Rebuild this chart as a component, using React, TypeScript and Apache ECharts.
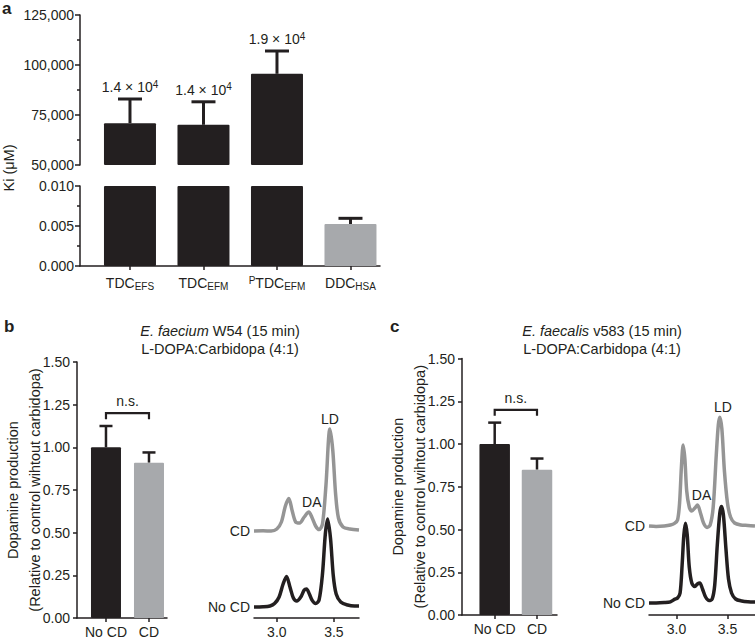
import React, { useEffect, useRef } from 'react';
import * as echarts from 'echarts';

// ---------------- Panel a data ----------------
const kiPrefix = ['', '', 'P', ''];
const kiMain = ['TDC', 'TDC', 'TDC', 'DDC'];
const kiSub = ['EFS', 'EFM', 'EFM', 'HSA'];
const kiMean = [70900, 70100, 95600, 0.00525];
const kiUpper = [83000, 81600, 107000, 0.00596];
const kiNote = ['1.4 × 10', '1.4 × 10', '1.9 × 10', ''];
const kiNoteExp = '4';
const kiUpperRange = [50000, 125000];
const kiUpperStep = 25000;
const kiLowerRange = [0, 0.01];
const kiLowerStep = 0.005;

// ---------------- Panels b, c data ----------------
const prodCategories = ['No CD', 'CD'];
const bMean = [1.0, 0.91];
const bUpper = [1.125, 0.97];
const cMean = [1.0, 0.85];
const cUpper = [1.125, 0.915];
const bracketTopLeg = [1.2, 1.165];
const prodRange = [0, 1.5];
const prodStep = 0.25;

const chromTicks = [3.0, 3.5];
const bChromRange = [2.8, 3.72];
const cChromRange = [2.73, 3.77];
const signalRange = [0, 105];

const bNoCD: number[][] = [
  [2.80, 5.5], [2.88, 5.6], [2.94, 6], [2.98, 7.2], [3.02, 10.5], [3.055, 17], [3.085, 20.8],
  [3.115, 15.5], [3.145, 10], [3.175, 8.5], [3.21, 10.5], [3.24, 14], [3.26, 14.5], [3.285, 12],
  [3.31, 8.8], [3.34, 7.2], [3.37, 9], [3.40, 22], [3.425, 42], [3.445, 49.5], [3.47, 40],
  [3.495, 21], [3.52, 12], [3.56, 8], [3.62, 6.5], [3.68, 6], [3.72, 6],
];
const bCD: number[][] = [
  [2.80, 43.5], [2.88, 43.6], [2.95, 43.5], [3.00, 44.5], [3.04, 48], [3.075, 56], [3.105, 59.8],
  [3.135, 53.5], [3.165, 48], [3.20, 47.5], [3.24, 50.5], [3.28, 53], [3.31, 50], [3.34, 46],
  [3.37, 44.2], [3.40, 47], [3.43, 66], [3.465, 94.5], [3.49, 84], [3.515, 62], [3.54, 50],
  [3.58, 45.5], [3.64, 44.5], [3.72, 44],
];
const cNoCD: number[][] = [
  [2.73, 6], [2.80, 6], [2.88, 6.2], [2.94, 6.6], [2.98, 7.8], [3.01, 8.5], [3.035, 11],
  [3.055, 25], [3.072, 40], [3.088, 45.9], [3.105, 40], [3.125, 24], [3.15, 16], [3.18, 14.2],
  [3.205, 15.5], [3.228, 16], [3.255, 13], [3.285, 9], [3.32, 7.2], [3.35, 8], [3.375, 15],
  [3.40, 35], [3.425, 51], [3.441, 54.2], [3.46, 50], [3.485, 33], [3.51, 18], [3.54, 11],
  [3.58, 8], [3.64, 7], [3.70, 6.6], [3.77, 6.5],
];
const cCD: number[][] = [
  [2.73, 44.5], [2.80, 44.3], [2.88, 44.5], [2.94, 45], [2.98, 45.8], [3.01, 47.5], [3.03, 56],
  [3.048, 74], [3.065, 85], [3.082, 78], [3.10, 62], [3.125, 54], [3.15, 52], [3.18, 53.5],
  [3.206, 55], [3.235, 51], [3.265, 46], [3.30, 43.8], [3.33, 45], [3.36, 54], [3.39, 80],
  [3.41, 95], [3.425, 98.9], [3.445, 93], [3.47, 72], [3.50, 56], [3.53, 49], [3.57, 46],
  [3.63, 45], [3.70, 44.8], [3.77, 44.5],
];
const bPeakNames = [['DA', 3.28], ['LD', 3.465]] as [string, number][];
const cPeakNames = [['DA', 3.206], ['LD', 3.425]] as [string, number][];

// ---------------- styles / layout ----------------
const FONT = "'Liberation Sans', Arial, Helvetica, sans-serif";
const INK = '#231f20';
const GRAY_BAR = '#a7a9ac';
const GRAY_LINE = '#959595';
const KI_COLORS = [INK, INK, INK, GRAY_BAR];
const PROD_COLORS = [INK, GRAY_BAR];

const A = { left: 80, width: 300, upTop: 15, upH: 150, lowTop: 186, lowH: 80, band: 73.5, first: 0.68, barW: 52 };
const B = { left: 77, top: 362, width: 90, height: 256, band: 43, first: 0.674, barW: 30, cLeft: 254, cW: 105, cBottom: 618, daDx: 3, ldDx: 0 };
const C = { left: 462, top: 358.5, width: 95, height: 256.5, band: 42.3, first: 0.773, barW: 30.5, cLeft: 649, cW: 106, cBottom: 615, daDx: 4, ldDx: 3 };

const lineStyle = { color: INK, width: 1.5 };
const fmtThousands = (v: number) => String(Math.round(v)).replace(/\B(?=(\d{3})+(?!\d))/g, ',');

function errorRender(capW: number, lw: number, withNote: boolean) {
  return (_params: any, api: any) => {
    const x = api.value(0);
    const p0 = api.coord([x, api.value(1)]);
    const p1 = api.coord([x, api.value(2)]);
    const idx = api.value(3);
    const st = { stroke: INK, lineWidth: lw };
    const children: any[] = [
      { type: 'line', shape: { x1: p0[0], y1: p0[1], x2: p1[0], y2: p1[1] }, style: st },
      { type: 'line', shape: { x1: p1[0] - capW / 2, y1: p1[1], x2: p1[0] + capW / 2, y2: p1[1] }, style: st },
    ];
    if (withNote && kiNote[idx]) {
      children.push({
        type: 'text',
        x: p1[0],
        y: p1[1] - 4,
        style: {
          text: `{n|${kiNote[idx]}}{e|${kiNoteExp}}`,
          align: 'center',
          verticalAlign: 'bottom',
          rich: {
            n: { fontSize: 14, lineHeight: 16, fontFamily: FONT, fill: INK },
            e: { fontSize: 10, lineHeight: 10, verticalAlign: 'top', fontFamily: FONT, fill: INK },
          },
        },
      });
    }
    return { type: 'group', children };
  };
}

function bracketRender(_params: any, api: any) {
  const x0 = api.value(0), x1 = api.value(1), top = api.value(2), leg = api.value(3);
  const a = api.coord([x0, leg]);
  const b = api.coord([x0, top]);
  const c = api.coord([x1, top]);
  const d = api.coord([x1, leg]);
  return {
    type: 'group',
    children: [
      { type: 'polyline', shape: { points: [a, b, c, d] }, style: { stroke: INK, lineWidth: 2.2, fill: null } },
      {
        type: 'text', x: (b[0] + c[0]) / 2, y: b[1] - 5,
        style: { text: 'n.s.', align: 'center', verticalAlign: 'bottom', fontSize: 14, fontFamily: FONT, fill: INK },
      },
    ],
  };
}

function prodPanel(L: any, gi: number, mean: number[], upper: number[]) {
  const xs = mean.map((_, i) => i + L.first);
  const xAxis = {
    gridIndex: gi, type: 'value', min: 0, max: L.width / L.band,
    axisLine: { show: true, onZero: false, lineStyle },
    axisTick: { show: true, customValues: xs, length: 4, lineStyle },
    axisLabel: {
      customValues: xs, margin: 7, color: INK, fontSize: 14, fontFamily: FONT,
      formatter: (v: number) => prodCategories[Math.round(v - L.first)],
    },
    splitLine: { show: false },
  };
  const yAxis = {
    gridIndex: gi, type: 'value', min: prodRange[0], max: prodRange[1], interval: prodStep,
    axisLine: { show: true, lineStyle },
    axisTick: { show: true, length: 4, lineStyle },
    axisLabel: { margin: 7, color: INK, fontSize: 14, fontFamily: FONT, formatter: (v: number) => v.toFixed(2) },
    splitLine: { show: false },
  };
  const series = [
    {
      type: 'bar', xAxisIndex: gi, yAxisIndex: gi, barWidth: L.barW,
      data: mean.map((v, i) => ({ value: [xs[i], v], itemStyle: { color: PROD_COLORS[i], borderRadius: 1 } })),
    },
    {
      type: 'custom', xAxisIndex: gi, yAxisIndex: gi, renderItem: errorRender(13, 2.5, false),
      data: mean.map((v, i) => [xs[i], v, upper[i], i]),
    },
    {
      type: 'custom', xAxisIndex: gi, yAxisIndex: gi, renderItem: bracketRender,
      data: [[xs[0], xs[1], bracketTopLeg[0], bracketTopLeg[1]]],
    },
  ];
  return { xAxis, yAxis, series };
}

function chromPanel(L: any, gi: number, range: number[], noCD: number[][], cd: number[][], peaks: [string, number][]) {
  const xAxis = {
    gridIndex: gi, type: 'value', min: range[0], max: range[1],
    axisLine: { show: true, onZero: false, lineStyle },
    axisTick: { show: true, customValues: chromTicks, length: 4, lineStyle },
    axisLabel: { customValues: chromTicks, margin: 7, color: INK, fontSize: 14, fontFamily: FONT, formatter: (v: number) => v.toFixed(1) },
    splitLine: { show: false },
  };
  const yAxis = { gridIndex: gi, type: 'value', min: signalRange[0], max: signalRange[1], show: false, splitLine: { show: false } };
  const lab = { color: INK, fontSize: 14, fontFamily: FONT, opacity: 1 };
  const peakPts = peaks.map(([name, t]) => {
    const p = cd.find((q) => Math.abs(q[0] - t) < 1e-9) as number[];
    return {
      name, value: p,
      label: { ...lab, position: 'top', distance: 3, offset: [name === 'DA' ? L.daDx : L.ldDx, 0] },
    };
  });
  const series = [
    {
      type: 'line', xAxisIndex: gi, yAxisIndex: gi, data: cd, showSymbol: false, smooth: 0.3,
      lineStyle: { color: GRAY_LINE, width: 3.5 }, z: 2,
    },
    {
      type: 'line', xAxisIndex: gi, yAxisIndex: gi, data: noCD, showSymbol: false, smooth: 0.3,
      lineStyle: { color: INK, width: 3.5 }, z: 3,
    },
    {
      type: 'scatter', xAxisIndex: gi, yAxisIndex: gi, symbolSize: 0, itemStyle: { color: INK }, z: 4,
      label: { show: true, formatter: '{b}', ...lab },
      data: [
        { name: 'CD', value: cd[0], label: { ...lab, position: 'left', distance: 4 } },
        { name: 'No CD', value: noCD[0], label: { ...lab, position: 'left', distance: 4 } },
        ...peakPts,
      ],
    },
  ];
  return { xAxis, yAxis, series };
}

function buildOption() {
  const kiX = kiMean.map((_, i) => i + A.first);
  const kiRich = {
    m: { fontSize: 14, lineHeight: 16, fontFamily: FONT, color: INK },
    s: { fontSize: 10, lineHeight: 10, verticalAlign: 'bottom', fontFamily: FONT, color: INK },
    p: { fontSize: 10, lineHeight: 10, verticalAlign: 'top', fontFamily: FONT, color: INK },
  };
  const kiLabel = (i: number) => `${kiPrefix[i] ? `{p|${kiPrefix[i]}}` : ''}{m|${kiMain[i]}}{s|${kiSub[i]}}`;

  const grids = [
    { left: A.left, top: A.upTop, width: A.width, height: A.upH },
    { left: A.left, top: A.lowTop, width: A.width, height: A.lowH },
    { left: B.left, top: B.top, width: B.width, height: B.height },
    { left: B.cLeft, top: B.cBottom - 210, width: B.cW, height: 210 },
    { left: C.left, top: C.top, width: C.width, height: C.height },
    { left: C.cLeft, top: C.cBottom - 210, width: C.cW, height: 210 },
  ];

  const xAxes: any[] = [
    { gridIndex: 0, type: 'value', min: 0, max: A.width / A.band, show: false, splitLine: { show: false } },
    {
      gridIndex: 1, type: 'value', min: 0, max: A.width / A.band,
      axisLine: { show: true, onZero: false, lineStyle },
      axisTick: { show: true, customValues: kiX, length: 4, lineStyle },
      axisLabel: { customValues: kiX, margin: 9, formatter: (v: number) => kiLabel(Math.round(v - A.first)), rich: kiRich },
      splitLine: { show: false },
    },
  ];
  const yAxes: any[] = [
    {
      gridIndex: 0, type: 'value', min: kiUpperRange[0], max: kiUpperRange[1], interval: kiUpperStep,
      axisLine: { show: true, lineStyle }, axisTick: { show: true, length: 5, lineStyle },
      minorTick: { show: true, splitNumber: 2, length: 3, lineStyle },
      axisLabel: { margin: 6, color: INK, fontSize: 14, fontFamily: FONT, formatter: fmtThousands },
      splitLine: { show: false }, minorSplitLine: { show: false },
    },
    {
      gridIndex: 1, type: 'value', min: kiLowerRange[0], max: kiLowerRange[1], interval: kiLowerStep,
      axisLine: { show: true, lineStyle }, axisTick: { show: true, length: 5, lineStyle },
      minorTick: { show: true, splitNumber: 2, length: 3, lineStyle },
      axisLabel: { margin: 6, color: INK, fontSize: 14, fontFamily: FONT, formatter: (v: number) => v.toFixed(3) },
      splitLine: { show: false }, minorSplitLine: { show: false },
    },
  ];

  const kiBar = (i: number) => ({ value: [kiX[i], kiMean[i]], itemStyle: { color: KI_COLORS[i], borderRadius: 1 } });
  const series: any[] = [
    {
      type: 'bar', xAxisIndex: 0, yAxisIndex: 0, barWidth: A.barW, clip: true,
      data: kiMean.map((_, i) => i).filter((i) => kiMean[i] > kiUpperRange[0]).map(kiBar),
    },
    {
      type: 'bar', xAxisIndex: 1, yAxisIndex: 1, barWidth: A.barW, clip: true,
      data: kiMean.map((_, i) => kiBar(i)),
    },
    {
      type: 'custom', xAxisIndex: 0, yAxisIndex: 0, renderItem: errorRender(24, 3, true),
      data: kiMean.map((v, i) => [kiX[i], v, kiUpper[i], i]).filter((d) => d[1] > kiUpperRange[0]),
    },
    {
      type: 'custom', xAxisIndex: 1, yAxisIndex: 1, renderItem: errorRender(24, 3, true),
      data: kiMean.map((v, i) => [kiX[i], v, kiUpper[i], i]).filter((d) => d[2] <= kiLowerRange[1]),
    },
  ];

  const pb = prodPanel(B, 2, bMean, bUpper);
  const cb = chromPanel(B, 3, bChromRange, bNoCD, bCD, bPeakNames);
  const pc = prodPanel(C, 4, cMean, cUpper);
  const cc = chromPanel(C, 5, cChromRange, cNoCD, cCD, cPeakNames);
  for (const p of [pb, cb, pc, cc]) {
    xAxes.push(p.xAxis);
    yAxes.push(p.yAxis);
    series.push(...p.series);
  }

  const txt = { fill: INK, fontFamily: FONT };
  const header = (x: number, species: string, strain: string) => ({
    type: 'text', x, y: 322,
    style: {
      text: `{i|${species}}{r| ${strain} (15 min)}\n{r|L-DOPA:Carbidopa (4:1)}`,
      align: 'center', verticalAlign: 'top',
      rich: {
        i: { fontSize: 14.5, lineHeight: 18, fontStyle: 'italic', fontFamily: FONT, fill: INK },
        r: { fontSize: 14.5, lineHeight: 18, fontFamily: FONT, fill: INK },
      },
    },
  });
  const yTitle = (x: number, y: number) => ({
    type: 'text', x, y, rotation: Math.PI / 2,
    style: {
      text: 'Dopamine production\n(Relative to control wihtout carbidopa)',
      align: 'center', verticalAlign: 'middle', fontSize: 14.5, lineHeight: 22, ...txt,
    },
  });
  const letter = (x: number, y: number, t: string) => ({
    type: 'text', x, y,
    style: { text: t, fontSize: 17, lineHeight: 17, fontWeight: 'bold', verticalAlign: 'top', ...txt },
  });

  const graphic = [
    letter(2, 0, 'a'),
    letter(4, 318, 'b'),
    letter(390, 318, 'c'),
    {
      type: 'text', x: 9, y: 168, rotation: Math.PI / 2,
      style: { text: 'Ki (μM)', align: 'center', verticalAlign: 'middle', fontSize: 14.5, ...txt },
    },
    header(220, 'E. faecium', 'W54'),
    header(602, 'E. faecalis', 'v583'),
    yTitle(24, 490),
    yTitle(409, 486.7),
  ];

  return {
    animation: false,
    backgroundColor: '#ffffff',
    textStyle: { fontFamily: FONT },
    grid: grids,
    xAxis: xAxes,
    yAxis: yAxes,
    series,
    graphic,
  };
}

export default function App() {
  const ref = useRef<HTMLDivElement>(null);
  useEffect(() => {
    document.body.style.margin = '0';
    const chart = echarts.init(ref.current as HTMLDivElement, null, { renderer: 'svg' });
    chart.setOption(buildOption() as any);
    return () => chart.dispose();
  }, []);
  return <div ref={ref} style={{ width: 755, height: 639, background: '#fff' }} />;
}
